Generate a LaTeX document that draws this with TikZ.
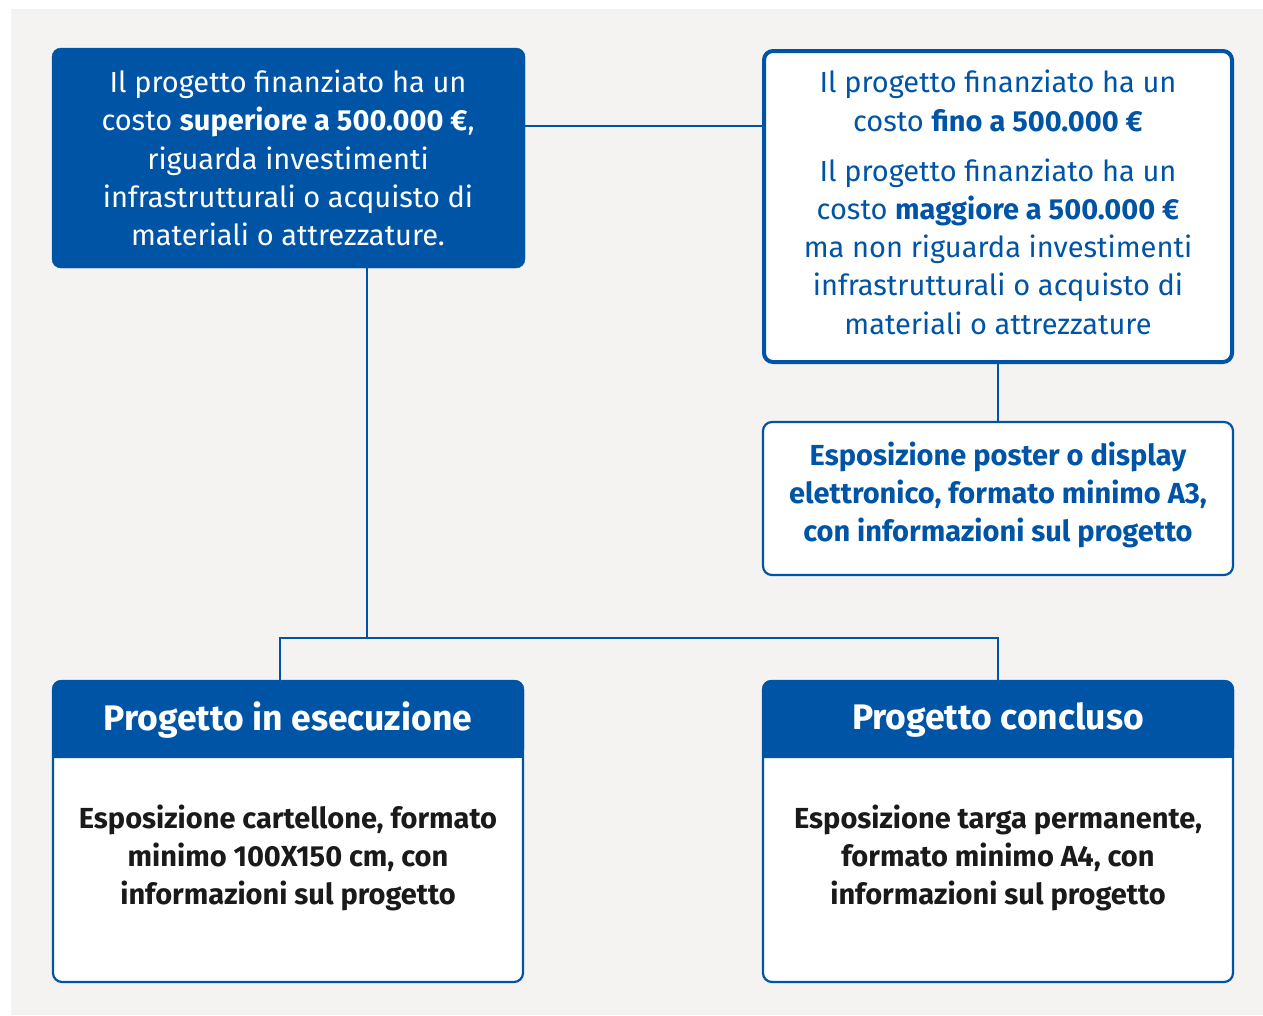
\documentclass[tikz,border=0pt]{standalone}
\usepackage{fontspec}
\setmainfont{Fira Sans}
\definecolor{pblue}{HTML}{0054A6}
\definecolor{pbg}{HTML}{F4F3F2}
\definecolor{ptext}{HTML}{1A1A1A}
\begin{document}
\begin{tikzpicture}[x=1pt,y=-1pt,
  conn/.style={draw=pblue,line width=2.6pt},
  filledbox/.style={fill=pblue,draw=pblue,rounded corners=9pt},
  outlinebox/.style={fill=white,draw=pblue,rounded corners=9pt},
  txt/.style={align=center,inner sep=0pt,font=\fontsize{29}{38.3}\selectfont},
  btxt/.style={align=center,inner sep=0pt,font=\fontsize{29}{38.3}\selectfont\bfseries},
  htxt/.style={align=center,inner sep=0pt,text=white,font=\fontsize{35.5}{40}\selectfont\bfseries},
]
\useasboundingbox (0,0) rectangle (1263,1015);
\fill[white] (0,0) rectangle (1263,1015);
\fill[pbg] (11,9) rectangle (1263,1015);

% connectors
\coordinate (j1) at (367,638);
\coordinate (jl) at (280,638);
\coordinate (jr) at (998,638);

% box 1
\path[filledbox] (52,48) rectangle (525,268);
\node[txt,text=white] (t1) at (288,158) {Il progetto finanziato ha un\\costo \textbf{superiore a 500.000 €},\\riguarda investimenti\\infrastrutturali o acquisto di\\materiali o attrezzature.};
\coordinate (b1r) at (525,126);
\coordinate (b1b) at (367,268);

% box 2
\path[outlinebox,line width=4pt] (764,51) rectangle (1232,362);
\node[txt,text=pblue] (t2a) at (998,101) {Il progetto finanziato ha un\\costo \textbf{fino a 500.000 €}};
\node[txt,text=pblue] (t2b) at (998,246.5) {Il progetto finanziato ha un\\costo \textbf{maggiore a 500.000 €}\\ma non riguarda investimenti\\infrastrutturali o acquisto di\\materiali o attrezzature};
\coordinate (b2l) at (762,126);
\coordinate (b2b) at (998,364);

% box 3
\path[outlinebox,line width=2.2pt] (763,422) rectangle (1233,575);
\node[btxt,text=pblue] (t3) at (998,495) {Esposizione poster o display\\elettronico, formato minimo A3,\\con informazioni sul progetto};
\coordinate (b3t) at (998,421);

% box 4
\path[outlinebox,line width=2.2pt] (53,681) rectangle (523,982);
\path[fill=pblue,rounded corners=9pt] (52,758) -- (52,680) -- (524,680) -- (524,758) [sharp corners] -- cycle;
\fill[pblue] (52,740) rectangle (524,758);
\node[htxt] (h4) at (288,720) {Progetto in esecuzione};
\node[btxt,text=ptext] (t4) at (288,858) {Esposizione cartellone, formato\\minimo 100X150 cm, con\\informazioni sul progetto};
\coordinate (b4t) at (280,680);

% box 5
\path[outlinebox,line width=2.2pt] (763,681) rectangle (1233,982);
\path[fill=pblue,rounded corners=9pt] (762,758) -- (762,680) -- (1234,680) -- (1234,758) [sharp corners] -- cycle;
\fill[pblue] (762,740) rectangle (1234,758);
\node[htxt] (h5) at (998,720) {Progetto concluso};
\node[btxt,text=ptext] (t5) at (998,858) {Esposizione targa permanente,\\formato minimo A4, con\\informazioni sul progetto};
\coordinate (b5t) at (998,680);

\draw[conn] (b1r) -- (b2l);
\draw[conn] (b2b) -- (b3t);
\draw[conn] (b1b) -- (j1);
\draw[conn,line cap=rect] (jl) -- (jr);
\draw[conn] (jl) -- (b4t);
\draw[conn] (jr) -- (b5t);
\end{tikzpicture}
\end{document}
